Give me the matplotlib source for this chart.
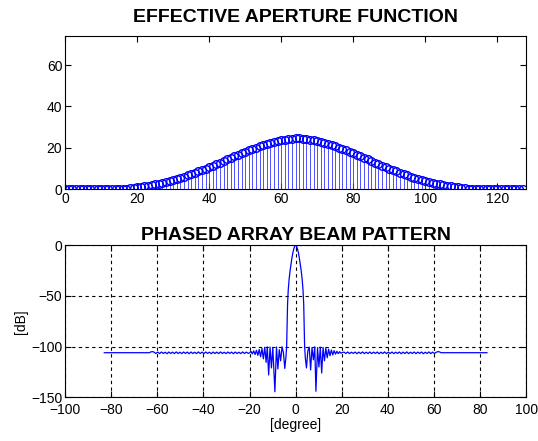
import numpy as np
import matplotlib
matplotlib.use('Agg')
import matplotlib.pyplot as plt

plt.rcParams['font.family'] = ['Liberation Sans', 'DejaVu Sans']

# effective aperture (element index 0..127)
element = list(range(128))
aperture = [0.0] * 17 + [
    0.3, 0.5, 0.7, 0.9, 1.1, 1.4, 1.7, 2.0, 2.3, 2.7,
    3.1, 3.5, 4.0, 4.5, 5.0, 5.5, 6.1, 6.7, 7.3, 7.9,
    8.6, 9.3, 10.0, 10.7, 11.4, 12.2, 12.9, 13.7, 14.4, 15.2,
    15.9, 16.7, 17.4, 18.1, 18.8, 19.5, 20.1, 20.7, 21.3, 21.9,
    22.4, 22.9, 23.3, 23.7, 24.0, 24.3, 24.5, 24.6, 24.6, 24.5,
    24.3, 24.0, 23.7, 23.3, 22.9, 22.4, 21.9, 21.3, 20.7, 20.1,
    19.5, 18.8, 18.1, 17.4, 16.7, 15.9, 15.2, 14.4, 13.7, 12.9,
    12.2, 11.4, 10.7, 10.0, 9.3, 8.6, 7.9, 7.3, 6.7, 6.1,
    5.5, 5.0, 4.5, 4.0, 3.5, 3.1, 2.7, 2.3, 2.0, 1.7,
    1.4, 1.1, 0.9, 0.7, 0.5, 0.3] + [0.0] * 15

# beam pattern, pieces from left to right
edge_left_deg = [-83.0, -63.5, -62.8, -62.0, -61.3]
edge_left_db = [-106.0, -106.0, -105.2, -104.9, -105.6]

ripple_left_deg = [
    -60.6, -59.8, -59.0, -58.2, -57.4, -56.6, -55.8, -55.0, -54.2, -53.4,
    -52.6, -51.8, -51.0, -50.2, -49.4, -48.6, -47.8, -47.0, -46.2, -45.4,
    -44.6, -43.8, -43.0, -42.2, -41.4, -40.6, -39.8, -39.0, -38.2, -37.4,
    -36.6, -35.8, -35.0, -34.2, -33.4, -32.6, -31.8, -31.0, -30.2, -29.4,
    -28.6, -27.8, -27.0, -26.2, -25.4, -24.6, -23.8, -23.0, -22.2, -21.4,
    -20.6]
ripple_left_db = [
    -106.8, -105.4, -106.9, -105.3, -106.7, -105.5, -107.0, -105.3, -106.8, -105.4,
    -106.9, -105.2, -106.8, -105.5, -106.9, -105.3, -106.7, -105.4, -107.0, -105.3,
    -106.8, -105.5, -106.9, -105.2, -106.8, -105.4, -106.9, -105.3, -106.7, -105.5,
    -107.0, -105.3, -106.8, -105.4, -106.9, -105.2, -106.8, -105.5, -106.9, -105.3,
    -106.7, -105.4, -107.0, -105.3, -106.8, -105.5, -106.9, -105.2, -106.8, -105.4,
    -106.6]

center_deg = [
    -20.0, -19.4, -18.8, -18.2, -17.6, -17.0, -16.4, -15.8, -15.2, -14.6,
    -14.0, -13.4, -12.8, -12.3, -11.7, -11.1, -10.5, -9.9, -9.0, -8.3,
    -7.7, -7.1, -6.5, -5.9, -5.3, -4.7, -4.2,
    -3.9, -3.7, -3.5, -3.2, -2.8, -2.4, -2.0, -1.6, -1.2, -0.8, -0.4, 0.0,
    0.4, 0.8, 1.2, 1.6, 2.0, 2.4, 2.8, 3.2, 3.5, 3.7, 3.9,
    4.2, 4.7, 5.3, 5.9, 6.5, 7.1, 7.7, 8.3, 8.8, 9.5,
    10.1, 10.7, 11.3, 11.9, 12.5, 13.1, 13.7, 14.3, 14.9, 15.5,
    16.1, 16.7, 17.3, 17.9, 18.5, 19.1, 19.7, 20.3]
center_db = [
    -106.2, -104.6, -107.2, -104.2, -107.8, -103.6, -108.6, -102.8, -110.0, -101.8,
    -112.0, -100.6, -115.5, -100.2, -128.0, -100.4, -121.0, -100.8, -144.5, -100.3,
    -122.0, -103.0, -114.0, -100.2, -106.0, -121.5, -110.0,
    -100.0, -80.0, -58.0, -44.0, -33.0, -25.0, -18.5, -12.5, -7.5, -3.6, -1.0, 0.0,
    -1.0, -3.6, -7.5, -12.5, -18.5, -25.0, -33.0, -44.0, -58.0, -80.0, -100.0,
    -111.0, -121.0, -104.0, -100.4, -123.0, -101.0, -113.0, -100.2, -144.0, -101.0,
    -120.0, -100.5, -126.0, -100.8, -114.0, -101.5, -111.0, -102.5, -109.0, -103.3,
    -108.2, -104.0, -107.4, -104.6, -106.9, -105.0, -106.5, -105.8]

ripple_right_deg = [
    21.0, 21.8, 22.6, 23.4, 24.2, 25.0, 25.8, 26.6, 27.4, 28.2,
    29.0, 29.8, 30.6, 31.4, 32.2, 33.0, 33.8, 34.6, 35.4, 36.2,
    37.0, 37.8, 38.6, 39.4, 40.2, 41.0, 41.8, 42.6, 43.4, 44.2,
    45.0, 45.8, 46.6, 47.4, 48.2, 49.0, 49.8, 50.6, 51.4, 52.2,
    53.0, 53.8, 54.6, 55.4, 56.2, 57.0, 57.8, 58.6, 59.4, 60.2,
    61.0]
ripple_right_db = [
    -105.4, -106.8, -105.3, -106.9, -105.5, -106.7, -105.3, -107.0, -105.4, -106.8,
    -105.2, -106.9, -105.5, -106.8, -105.3, -106.9, -105.4, -106.7, -105.3, -107.0,
    -105.5, -106.8, -105.2, -106.9, -105.4, -106.8, -105.3, -106.9, -105.5, -106.7,
    -105.3, -107.0, -105.4, -106.8, -105.2, -106.9, -105.5, -106.8, -105.3, -106.9,
    -105.4, -106.7, -105.3, -107.0, -105.5, -106.8, -105.2, -106.9, -105.4, -106.8,
    -105.6]

edge_right_deg = [61.7, 62.4, 63.1, 83.0]
edge_right_db = [-104.9, -105.2, -106.0, -106.0]

beam_deg = edge_left_deg + ripple_left_deg + center_deg + ripple_right_deg + edge_right_deg
beam_db = edge_left_db + ripple_left_db + center_db + ripple_right_db + edge_right_db

fig = plt.figure(figsize=(5.38, 4.41), dpi=100)
ax1 = fig.add_axes([0.121, 0.571, 0.857, 0.347])
ax2 = fig.add_axes([0.121, 0.099, 0.857, 0.345])

# top: stem plot of the aperture
markers, stems, base = ax1.stem(element, aperture, linefmt='b-', markerfmt='bo', basefmt=' ')
plt.setp(stems, linewidth=0.6, color=(0.2, 0.2, 1.0))
plt.setp(markers, markersize=5.5, markerfacecolor='none', markeredgecolor='b', markeredgewidth=1.0)
ax1.set_xlim(0, 128)
ax1.set_ylim(0, 74)
ax1.set_xticks(range(0, 121, 20))
ax1.set_yticks([0, 20, 40, 60])
ax1.set_title('EFFECTIVE APERTURE FUNCTION', fontsize=14, fontweight='bold', pad=10)

# bottom: beam pattern
ax2.plot(beam_deg, beam_db, color='b', linewidth=0.9)
ax2.set_xlim(-100, 100)
ax2.set_ylim(-150, 0)
ax2.set_xticks(range(-100, 101, 20))
ax2.set_yticks([-150, -100, -50, 0])
ax2.grid(True, color='k', linestyle=(0, (3, 3)), linewidth=0.8)
ax2.set_xlabel('[degree]', fontsize=10, labelpad=1)
ax2.set_ylabel('[dB]', fontsize=10, labelpad=2)
ax2.set_title('PHASED ARRAY BEAM PATTERN', fontsize=14, fontweight='bold', pad=4)

for ax in (ax1, ax2):
    ax.tick_params(direction='in', top=True, right=True, length=4, labelsize=10, pad=2)
    for s in ax.spines.values():
        s.set_linewidth(0.8)
ax2.tick_params(axis='x', pad=4)

fig.savefig('out.png', dpi=100)
